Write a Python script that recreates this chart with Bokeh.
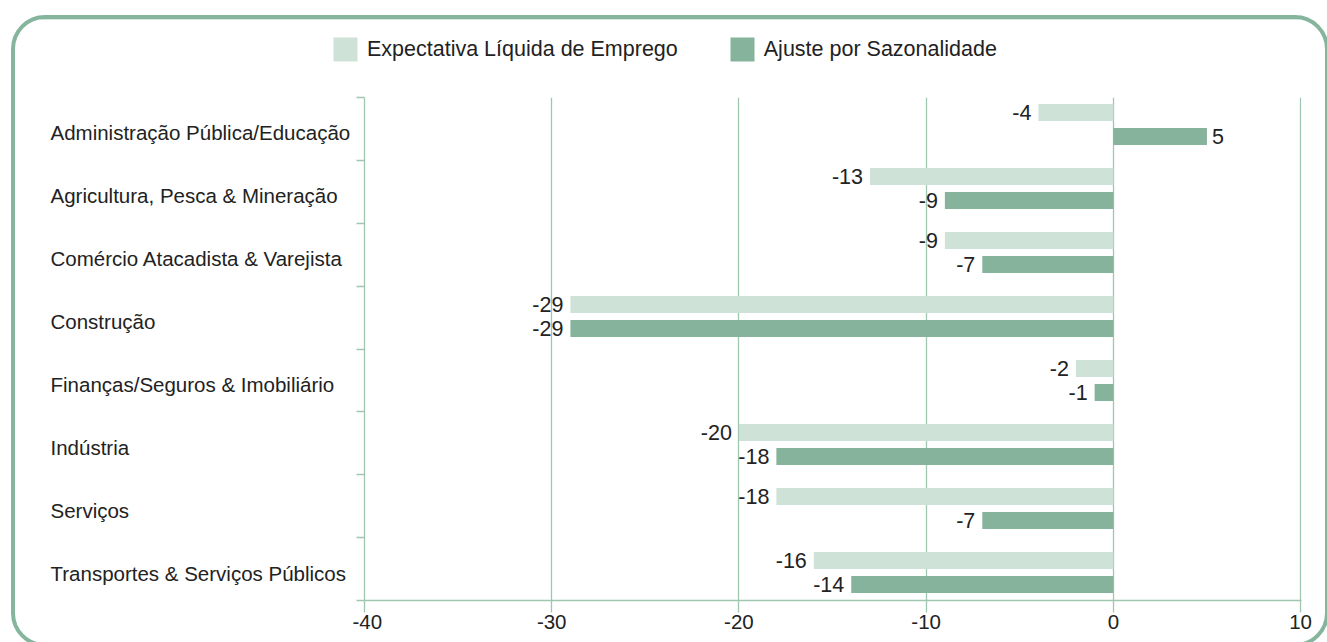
from bokeh.plotting import figure
from bokeh.models import Range1d, FixedTicker, ColumnDataSource, Legend, LegendItem, Column, Row, Spacer
from bokeh.embed import file_html
from bokeh.resources import INLINE
from bokeh.core.properties import value, field

# ---------------- data ----------------
categories = [
    "Administração Pública/Educação",
    "Agricultura, Pesca & Mineração",
    "Comércio Atacadista & Varejista",
    "Construção",
    "Finanças/Seguros & Imobiliário",
    "Indústria",
    "Serviços",
    "Transportes & Serviços Públicos",
]
expectativa = [-4, -13, -9, -29, -2, -20, -18, -16]
ajuste = [5, -9, -7, -29, -1, -18, -7, -14]
series_names = ["Expectativa Líquida de Emprego", "Ajuste por Sazonalidade"]
x_ticks = [-40, -30, -20, -10, 0, 10]

# ---------------- style ----------------
FONT = "Liberation Sans"
FS_CAT = "20.5px"
FS_VAL = "21.5px"
FS_LEG = "21.5px"
LIGHT = "#cfe2d7"
DARK = "#85b39b"
LINE = "#9fc6b1"
BORDER = "#86b59d"
TEXT = "#222222"

n = len(categories)
centers = [i + 0.5 for i in range(n)]
# bar bands (the source chart spaces its bar pairs slightly wider than its category ticks)
BAND_START = 0.2386
BAND_STEP = 1.0179
PAIR_GAP = 0.3817
BAR_H = 0.27

def labels_for(vals):
    return [str(v) for v in vals]

def align_for(vals):
    return ["right" if v < 0 else "left" for v in vals]

def offset_for(vals):
    return [-7 if v < 0 else 5 for v in vals]

y_light = [BAND_START + BAND_STEP * i for i in range(n)]
y_dark = [y + PAIR_GAP for y in y_light]

src = ColumnDataSource(dict(
    cat=categories,
    yc=centers,
    y_light=y_light,
    y_dark=y_dark,
    exp=expectativa,
    adj=ajuste,
    exp_txt=labels_for(expectativa),
    adj_txt=labels_for(ajuste),
    exp_align=align_for(expectativa),
    adj_align=align_for(ajuste),
    exp_off=offset_for(expectativa),
    adj_off=offset_for(ajuste),
))

# ---------------- main plot ----------------
main = figure(width=973, height=553,
              x_range=Range1d(-40, 10.05), y_range=Range1d(n, 0),
              output_backend="svg", toolbar_location=None,
              min_border_left=12, min_border_right=24,
              min_border_top=10, min_border_bottom=40)
main.outline_line_color = None
main.background_fill_color = None
main.border_fill_color = None

main.hbar(y="y_light", left=0, right="exp", height=BAR_H, source=src,
          fill_color=LIGHT, line_color=None)
main.hbar(y="y_dark", left=0, right="adj", height=BAR_H, source=src,
          fill_color=DARK, line_color=None)

main.text(x="exp", y="y_light", text="exp_txt", source=src,
          text_align=field("exp_align"), x_offset="exp_off",
          text_baseline="middle", text_font=value(FONT),
          text_font_size=FS_VAL, text_color=TEXT)
main.text(x="adj", y="y_dark", text="adj_txt", source=src,
          text_align=field("adj_align"), x_offset="adj_off",
          text_baseline="middle", text_font=value(FONT),
          text_font_size=FS_VAL, text_color=TEXT)

main.xgrid.ticker = FixedTicker(ticks=x_ticks)
main.xgrid.grid_line_color = LINE
main.xgrid.grid_line_width = 1.3
main.ygrid.visible = False

xa = main.xaxis[0]
xa.ticker = FixedTicker(ticks=x_ticks)
xa.major_label_overrides = {t: str(t) for t in x_ticks}
xa.major_tick_out = 12
xa.major_tick_in = 0
xa.minor_tick_out = 0
xa.minor_tick_in = 0
xa.axis_line_color = LINE
xa.axis_line_width = 1.3
xa.major_tick_line_color = LINE
xa.major_tick_line_width = 1.3
xa.major_label_standoff = 2
xa.major_label_text_font = FONT
xa.major_label_text_font_size = FS_CAT
xa.major_label_text_color = TEXT

ya = main.yaxis[0]
ya.ticker = FixedTicker(ticks=[], minor_ticks=list(range(n + 1)))
ya.major_tick_out = 0
ya.major_tick_in = 0
ya.minor_tick_out = 8
ya.minor_tick_in = 0
ya.minor_tick_line_color = LINE
ya.minor_tick_line_width = 1.3
ya.axis_line_color = LINE
ya.axis_line_width = 1.3
ya.major_label_text_font_size = "0px"
ya.major_label_standoff = 0

# ---------------- category labels ----------------
LABEL_X = 35
lab = figure(width=337, height=553, x_range=Range1d(0, 337), y_range=main.y_range,
             output_backend="svg", toolbar_location=None,
             min_border_left=0, min_border_right=0,
             min_border_top=10, min_border_bottom=40)
lab.axis.visible = False
lab.grid.visible = False
lab.outline_line_color = None
lab.background_fill_color = None
lab.border_fill_color = None
lab.text(x=LABEL_X, y="yc", text="cat", source=src, text_align="left",
         text_baseline="middle", y_offset=4, text_font=value(FONT),
         text_font_size=FS_CAT, text_color=TEXT)

# ---------------- legend ----------------
leg = figure(width=1310, height=68, x_range=Range1d(0, 1), y_range=Range1d(0, 1),
             output_backend="svg", toolbar_location=None, min_border=0)
leg.axis.visible = False
leg.grid.visible = False
leg.outline_line_color = None
leg.background_fill_color = None
leg.border_fill_color = None
# swatch renderers kept outside the visible range of this legend strip
r1 = leg.hbar(y=[5], left=[0], right=[1], height=0.5, fill_color=LIGHT, line_color=None)
r2 = leg.hbar(y=[5], left=[0], right=[1], height=0.5, fill_color=DARK, line_color=None)
legend = Legend(items=[LegendItem(label=series_names[0], renderers=[r1]),
                       LegendItem(label=series_names[1], renderers=[r2])],
                location=(315, 23), orientation="horizontal",
                glyph_width=30, glyph_height=30, label_height=30,
                label_standoff=7, spacing=49, padding=0, margin=0,
                border_line_color=None, background_fill_alpha=0,
                label_text_font=FONT, label_text_font_size=FS_LEG,
                label_text_color=TEXT)
leg.add_layout(legend, "center")

inner = Column(children=[leg, Row(children=[lab, main])],
               width=1318, height=632,
               styles={"border": f"4px solid {BORDER}", "border-radius": "34px",
                       "overflow": "hidden", "box-sizing": "border-box"})
mid = Row(children=[Spacer(width=11, height=632), inner])
page = Column(children=[Spacer(width=1327, height=15), mid], width=1327, height=642,
              styles={"overflow": "hidden", "align-items": "flex-start"})

open("out.html", "w").write(file_html(page, INLINE))
